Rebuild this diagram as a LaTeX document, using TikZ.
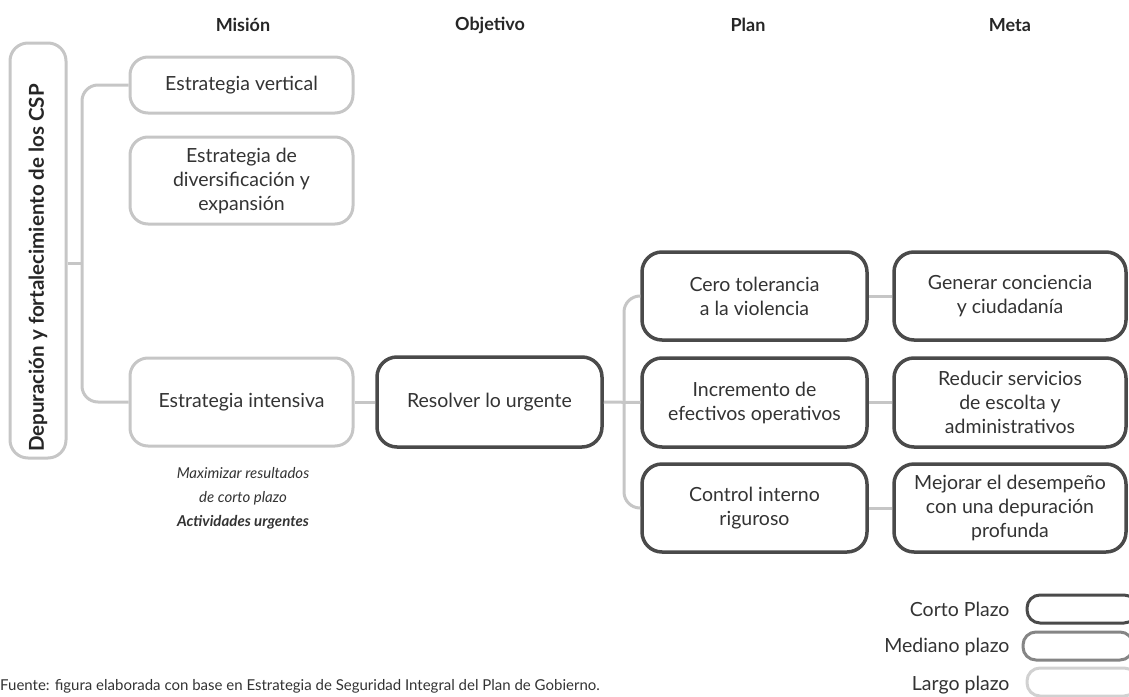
\documentclass[tikz,border=0pt]{standalone}
\usepackage{fontspec}
\setmainfont{Lato}
\definecolor{lightln}{HTML}{C6C6C6}
\definecolor{darkln}{HTML}{4A4A4A}
\definecolor{midln}{HTML}{858585}
\definecolor{txt}{HTML}{333333}
\begin{document}
\begin{tikzpicture}[x=1pt,y=-1pt,
  every node/.style={text=txt,font=\fontsize{19.5}{24}\selectfont},
  lightbox/.style={draw=lightln,line width=3pt,rounded corners=18pt,minimum width=223pt,align=center,inner sep=0pt},
  darkbox/.style={draw=darkln,line width=3.5pt,rounded corners=20pt,minimum width=225pt,minimum height=88pt,align=center,inner sep=0pt},
  conn/.style={draw=lightln,line width=3pt},
  head/.style={font=\fontsize{18}{22}\selectfont\bfseries,text=black!85},
  legtxt/.style={anchor=east,font=\fontsize{19.5}{24}\selectfont},
  legbox/.style={line width=3pt,rounded corners=13pt,minimum width=110pt,minimum height=28pt,inner sep=0pt}]
\clip (0,0) rectangle (1129,696);
% headers
\node[head] (h1) at (243,25) {Misión};
\node[head] (h2) at (490,25) {Objetivo};
\node[head] (h3) at (748,25) {Plan};
\node[head] (h4) at (1010,25) {Meta};
% left box
\node[draw=lightln,line width=3pt,rounded corners=18pt,minimum width=56pt,minimum height=415pt,inner sep=0pt] (lbox) at (38,250.5) {};
\node[rotate=90,font=\fontsize{20.5}{24}\selectfont\bfseries,text=black!85] (ltxt) at (38,268) {Depuración y fortalecimiento de los CSP};
% mission boxes
\node[lightbox,minimum height=56pt] (ev) at (241.5,85) {Estrategia vertical};
\node[lightbox,minimum height=87pt] (ed) at (241.5,180.5) {Estrategia de\\diversificación y\\expansión};
\node[lightbox,minimum height=88pt] (ei) at (241.5,402) {Estrategia intensiva};
\node[font=\fontsize{15}{24}\selectfont\itshape,align=center] (note) at (243,498) {Maximizar resultados\\de corto plazo\\\bfseries Actividades urgentes};
% objective
\node[darkbox,minimum height=90pt] (ru) at (489.5,402) {Resolver lo urgente};
% plan
\node[darkbox] (ct) at (754.5,296) {Cero tolerancia\\a la violencia};
\node[darkbox,minimum height=89pt] (ie) at (754.5,402.5) {Incremento de\\efectivos operativos};
\node[darkbox] (ci) at (754.5,508) {Control interno\\riguroso};
% meta
\node[darkbox,minimum width=232pt] (gc) at (1010,296) {Generar conciencia\\y ciudadanía};
\node[darkbox,minimum width=232pt,minimum height=89pt] (rs) at (1010,402.5) {Reducir servicios\\de escolta y\\administrativos};
\node[darkbox,minimum width=232pt] (md) at (1010,508) {Mejorar el desempeño\\con una depuración\\profunda};
% connectors
\coordinate (j1) at (82,263);
\coordinate (j2) at (624,402);
\draw[conn] (lbox.east |- j1) -- (j1);
\draw[conn,rounded corners=16pt] (ev.west) -| (j1) |- (ei.west);
\draw[conn] (ei.east) -- (ru.west);
\draw[conn] (ru.east) -- (ie.west);
\draw[conn,rounded corners=16pt] (ct.west) -| (j2) |- (ci.west);
\draw[conn] (ct.east) -- (gc.west);
\draw[conn] (ie.east) -- (rs.west);
\draw[conn] (ci.east) -- (md.west);
% legend
\node[legbox,draw=darkln] (lc) at (1082,609) {};
\node[legbox,draw=midln] (lm) at (1078,646) {};
\node[legbox,draw=lightln!80] (ll) at (1082,682) {};
\node[legtxt] (tc) at (1013,609) {Corto Plazo};
\node[legtxt] (tm) at (1013,647) {Mediano plazo};
\node[legtxt] (tl) at (1013,685) {Largo plazo};
% source
\node[anchor=west,inner sep=0pt,font=\fontsize{15}{17}\selectfont] (src) at (0,686) {Fuente: figura elaborada con base en Estrategia de Seguridad Integral del Plan de Gobierno.};
\end{tikzpicture}
\end{document}
